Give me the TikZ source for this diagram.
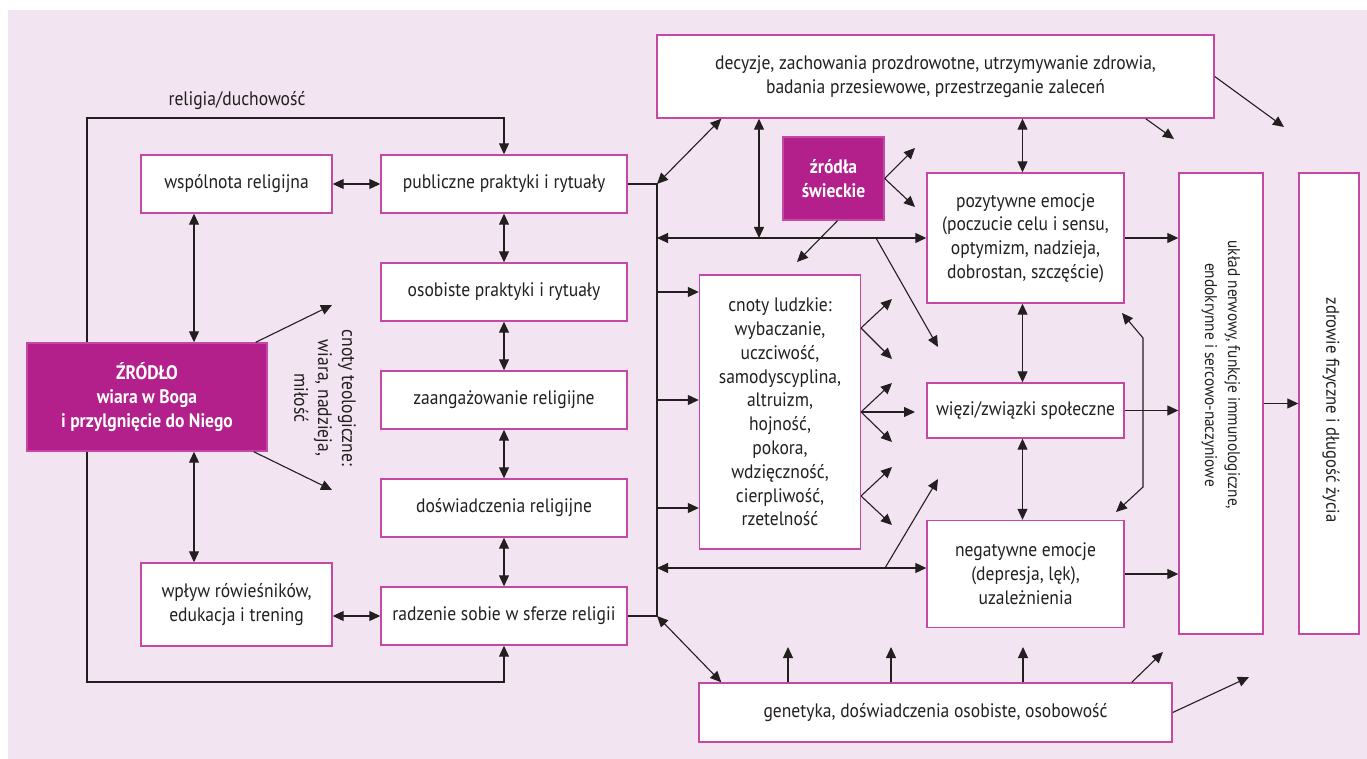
\documentclass[tikz,border=0pt]{standalone}
\usepackage{fontspec}
\setmainfont{PT Sans}[FakeStretch=0.9]
\usetikzlibrary{arrows.meta}
\definecolor{bgpink}{HTML}{F2E4F0}
\definecolor{frame}{HTML}{C548A5}
\definecolor{magbox}{HTML}{B31F8B}
\definecolor{ink}{HTML}{231F20}
\begin{document}
\begin{tikzpicture}[x=1pt,y=-1pt,>={Triangle[length=11pt,width=10pt]},
  line width=1.1pt,draw=ink,
  every node/.style={font=\fontsize{19.5}{23.8}\selectfont,text=ink},
  box/.style={draw=frame,fill=white,line width=1.4pt,align=center,inner sep=2pt},
  srcbox/.style={draw=frame,fill=magbox,line width=1.4pt,align=center,text=white,font=\fontsize{19.5}{23.8}\selectfont\bfseries},
  arr/.style={->},dbl/.style={<->}]
\useasboundingbox (0,0) rectangle (1367,759);
\fill[bgpink] (8,10) rectangle (1367,759);
% left column
\node[box,minimum width=191pt,minimum height=58pt] (wsp) at (236.5,184) {wspólnota religijna};
\node[srcbox,minimum width=240pt,minimum height=108pt] (zr) at (147,397) {ŹRÓDŁO\\wiara w Boga\\i przylgnięcie do Niego};
\node[box,minimum width=191pt,minimum height=83pt] (wplyw) at (236.5,604.5) {wpływ rówieśników,\\edukacja i trening};
\node (rel) at (237,101) {religia/duchowość};
\node[rotate=-90,align=center] (teol) at (325,398) {cnoty teologiczne:\\wiara, nadzieja,\\miłość};
% religious practices
\node[box,minimum width=246pt,minimum height=58pt] (pub) at (504,184) {publiczne praktyki i rytuały};
\node[box,minimum width=246pt,minimum height=58pt] (osob) at (504,292) {osobiste praktyki i rytuały};
\node[box,minimum width=246pt,minimum height=58pt] (zaang) at (504,400) {zaangażowanie religijne};
\node[box,minimum width=246pt,minimum height=58pt] (dosw) at (504,508) {doświadczenia religijne};
\node[box,minimum width=246pt,minimum height=58pt] (radz) at (504,616) {radzenie sobie w sferze religii};
% mediators
\node[box,minimum width=557pt,minimum height=83pt] (dec) at (935.5,76.5) {decyzje, zachowania prozdrowotne, utrzymywanie zdrowia,\\badania przesiewowe, przestrzeganie zaleceń};
\node[srcbox,minimum width=101pt,minimum height=83pt] (swiec) at (833.5,178.5) {źródła\\świeckie};
\node[box,minimum width=161pt,minimum height=274pt] (cnoty) at (780,412) {cnoty ludzkie:\\wybaczanie,\\uczciwość,\\samodyscyplina,\\altruizm,\\hojność,\\pokora,\\wdzięczność,\\cierpliwość,\\rzetelność};
\node[box,minimum width=197pt,minimum height=130pt] (poz) at (1025.5,238) {pozytywne emocje\\(poczucie celu i sensu,\\optymizm, nadzieja,\\dobrostan, szczęście)};
\node[box,minimum width=197pt,minimum height=55pt] (wiezi) at (1025.5,410.5) {więzi/związki społeczne};
\node[box,minimum width=197pt,minimum height=107pt] (neg) at (1025.5,574) {negatywne emocje\\(depresja, lęk),\\uzależnienia};
\node[box,minimum width=473pt,minimum height=59pt] (gen) at (935.5,712.5) {genetyka, doświadczenia osobiste, osobowość};
% outcomes
\node[box,minimum width=84pt,minimum height=461pt] (uklad) at (1221,403.5) {};
\node[rotate=-90,align=center,font=\fontsize{17}{23}\selectfont] (ukladtxt) at (1221,375) {układ nerwowy, funkcje immunologiczne,\\endokrynne i sercowo-naczyniowe};
\node[box,minimum width=60pt,minimum height=461pt] (zdrow) at (1329,403.5) {};
\node[rotate=-90,font=\fontsize{18.5}{23}\selectfont] (zdrowtxt) at (1331,410) {zdrowie fizyczne i długość życia};
% left connectors
\coordinate (lt) at (87,118);
\coordinate (lb) at (87,682);
\draw[arr] (lt |- zr.north) -- (lt) -- (lt -| pub) -- (pub.north);
\draw[arr] (lb |- zr.south) -- (lb) -- (lb -| radz) -- (radz.south);
\draw[dbl] ([xshift=-42.5pt]wsp.south) -- ([xshift=-42.5pt]wsp.south |- zr.north);
\draw[dbl] ([xshift=47pt]zr.south) -- ([xshift=47pt]zr.south |- wplyw.north);
\draw[dbl] (wsp.east) -- (pub.west);
\draw[dbl] (radz.west -| wplyw.east) -- (radz.west);
\coordinate (t1) at (332,305);
\coordinate (t2) at (332,490);
\draw[arr] ([xshift=-12pt]zr.north east) -- (t1);
\draw[arr] ([xshift=-14pt]zr.south east) -- (t2);
\draw[dbl] (pub) -- (osob);
\draw[dbl] (osob) -- (zaang);
\draw[dbl] (zaang) -- (dosw);
\draw[dbl] (dosw) -- (radz);
% bus
\coordinate (bt) at (657,184);
\coordinate (bb) at (657,616);
\coordinate (b1) at (657,238);
\coordinate (b2) at (657,568);
\coordinate (b3) at (657,292);
\coordinate (b4) at (657,400);
\coordinate (b5) at (657,508);
\coordinate (v1) at (759,238);
\draw (pub.east) -- (bt) -- (bb) -- (radz.east);
\draw[dbl] (bt) -- ([xshift=65pt]dec.south west);
\draw[dbl] (b1) -- (b1 -| poz.west);
\draw[dbl] (v1 |- dec.south) -- (v1);
\draw[arr] (b3) -- (b3 -| cnoty.west);
\draw[arr] (b4) -- (b4 -| cnoty.west);
\draw[arr] (b5) -- (b5 -| cnoty.west);
\draw[dbl] (b2) -- (b2 -| neg.west);
\draw[dbl] (bb) -- ([xshift=23pt]gen.north west);
% secular sources
\coordinate (s1) at (915,148);
\coordinate (s2) at (915,207);
\coordinate (s3) at (797,262);
\draw[arr] (swiec.east) -- (s1);
\draw[arr] (swiec.east) -- (s2);
\draw[arr] ([xshift=4pt]swiec.south) -- (s3);
\coordinate (d1) at (876,238);
\coordinate (d2) at (938,347);
\coordinate (d3) at (885,568);
\coordinate (d4) at (938,479);
\draw[arr] (d1) -- (d2);
\draw[arr] (d3) -- (d4);
% virtues
\coordinate (c1) at (861,328);
\coordinate (c2) at (861,412);
\coordinate (c3) at (861,496);
\draw[arr] (c1) -- ++(31,-29);
\draw[arr] (c1) -- ++(31,31);
\draw[arr] (c2) -- ++(31,-29);
\draw[arr] (c2) -- ++(54,0);
\draw[arr] (c2) -- ++(31,30);
\draw[arr] (c3) -- ++(31,-29);
\draw[arr] (c3) -- ++(31,29);
% emotions
\draw[dbl] ([xshift=-3pt]poz.north) -- ([xshift=-3pt]poz.north |- dec.south);
\draw[dbl] ([xshift=-3pt]poz.south) -- ([xshift=-3pt]wiezi.north);
\draw[dbl] ([xshift=-3pt]wiezi.south) -- ([xshift=-3pt]neg.north);
\coordinate (k1) at (1122,313);
\coordinate (k2) at (1116,512);
\draw[dbl] (k1) -- (1143,338) -- (1143,487) -- (k2);
\draw[arr] (poz.east) -- (poz.east -| uklad.west);
\draw[arr] (wiezi.east) -- (wiezi.east -| uklad.west);
\draw[arr] (neg.east) -- (neg.east -| uklad.west);
\draw[arr] (uklad.east) -- (zdrow.west);
% decisions
\coordinate (e1) at (1284,127);
\coordinate (e2) at (1174,139);
\draw[arr] (dec.east) -- (e1);
\draw[arr] ([xshift=-69pt]dec.south east) -- (e2);
% genetics
\draw[arr] (gen.north -| 788,0) -- (788,647);
\draw[arr] (gen.north -| 891,0) -- (891,647);
\draw[arr] (gen.north -| 1023,0) -- (1023,647);
\coordinate (g1) at (1163,652);
\coordinate (g2) at (1249,677);
\draw[arr] ([xshift=-41pt]gen.north east) -- (g1);
\draw[arr] (gen.east) -- (g2);
\end{tikzpicture}
\end{document}
